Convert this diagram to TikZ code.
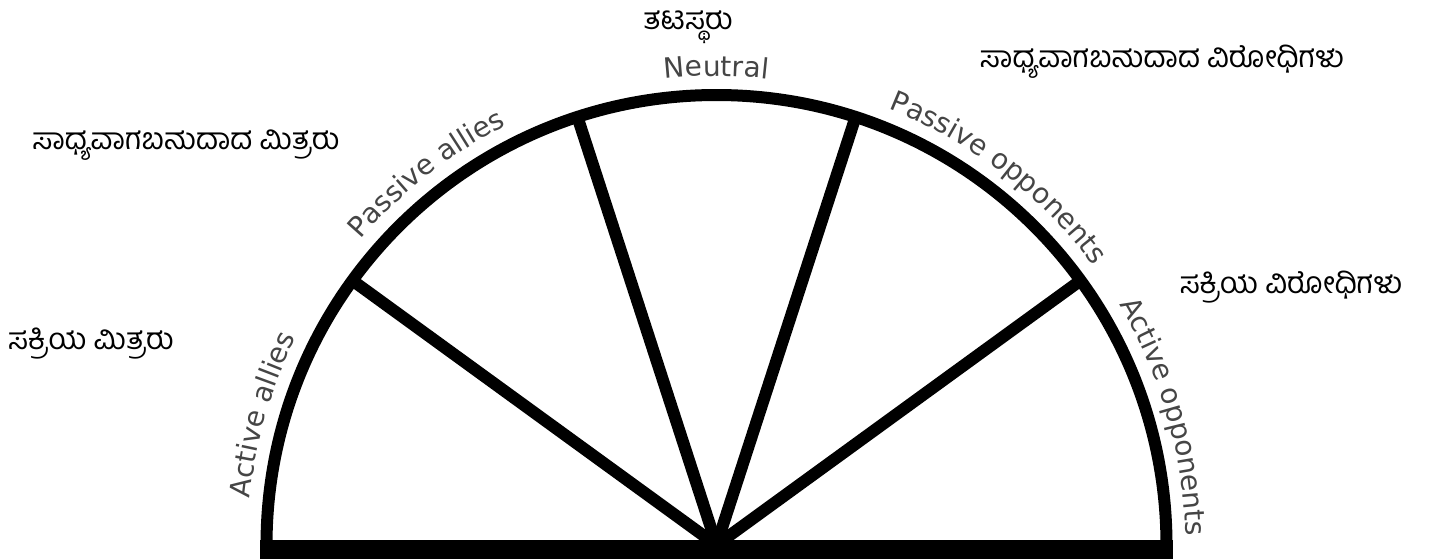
\documentclass[tikz,border=0pt]{standalone}
\usepackage{fontspec}
\newfontfamily\arcfont{DejaVu Sans}
\newfontfamily\kanfont[Script=Kannada]{Hind Mysuru}
\usetikzlibrary{decorations.text}
\definecolor{labelgray}{HTML}{454545}
\tikzset{
  kanlabel/.style={font=\kanfont\fontsize{15}{18}\selectfont, inner sep=0pt},
}
% label set along the rim, centred on angle #1
\newcommand{\rimlabel}[2]{%
  \path[decorate, decoration={text along path, text align=center,
      text={|\arcfont\fontsize{14}{16}\selectfont\color{labelgray}|#2}}]
    ([shift={(#1+40:469)}]O) arc[start angle=#1+40, end angle=#1-40, radius=469];}
\begin{document}
\begin{tikzpicture}[x=0.5pt, y=0.5pt]
        \useasboundingbox (0,0) rectangle (1435,559);
        \coordinate (O) at (716.5,14);
        \draw[line width=6pt] ([shift={(180:450)}]O) arc[start angle=180, end angle=0, radius=450];
        \foreach \a in {36, 72, 108, 144}{
            \draw[line width=6pt] (O) -- ([shift={(\a:450)}]O);
        }
        \fill[black] (260,0) rectangle (1173,19);
        \rimlabel{164}{Active allies}
        \rimlabel{128}{Passive allies}
        \rimlabel{90}{Neutral}
        \rimlabel{52.5}{Passive opponents}
        \rimlabel{16}{Active opponents}
        \node[kanlabel] (actallies) at (91,215) {ಸಕ್ರಿಯ ಮಿತ್ರರು};
        \node[kanlabel] (passallies) at (186,414) {ಸಾಧ್ಯವಾಗಬಹುದಾದ ಮಿತ್ರರು};
        \node[kanlabel] (neutral) at (688,532) {ತಟಸ್ಥರು};
        \node[kanlabel] (passopp) at (1162,497) {ಸಾಧ್ಯವಾಗಬಹುದಾದ ವಿರೋಧಿಗಳು};
        \node[kanlabel] (actopp) at (1291,272) {ಸಕ್ರಿಯ ವಿರೋಧಿಗಳು};
    \end{tikzpicture}
\end{document}
